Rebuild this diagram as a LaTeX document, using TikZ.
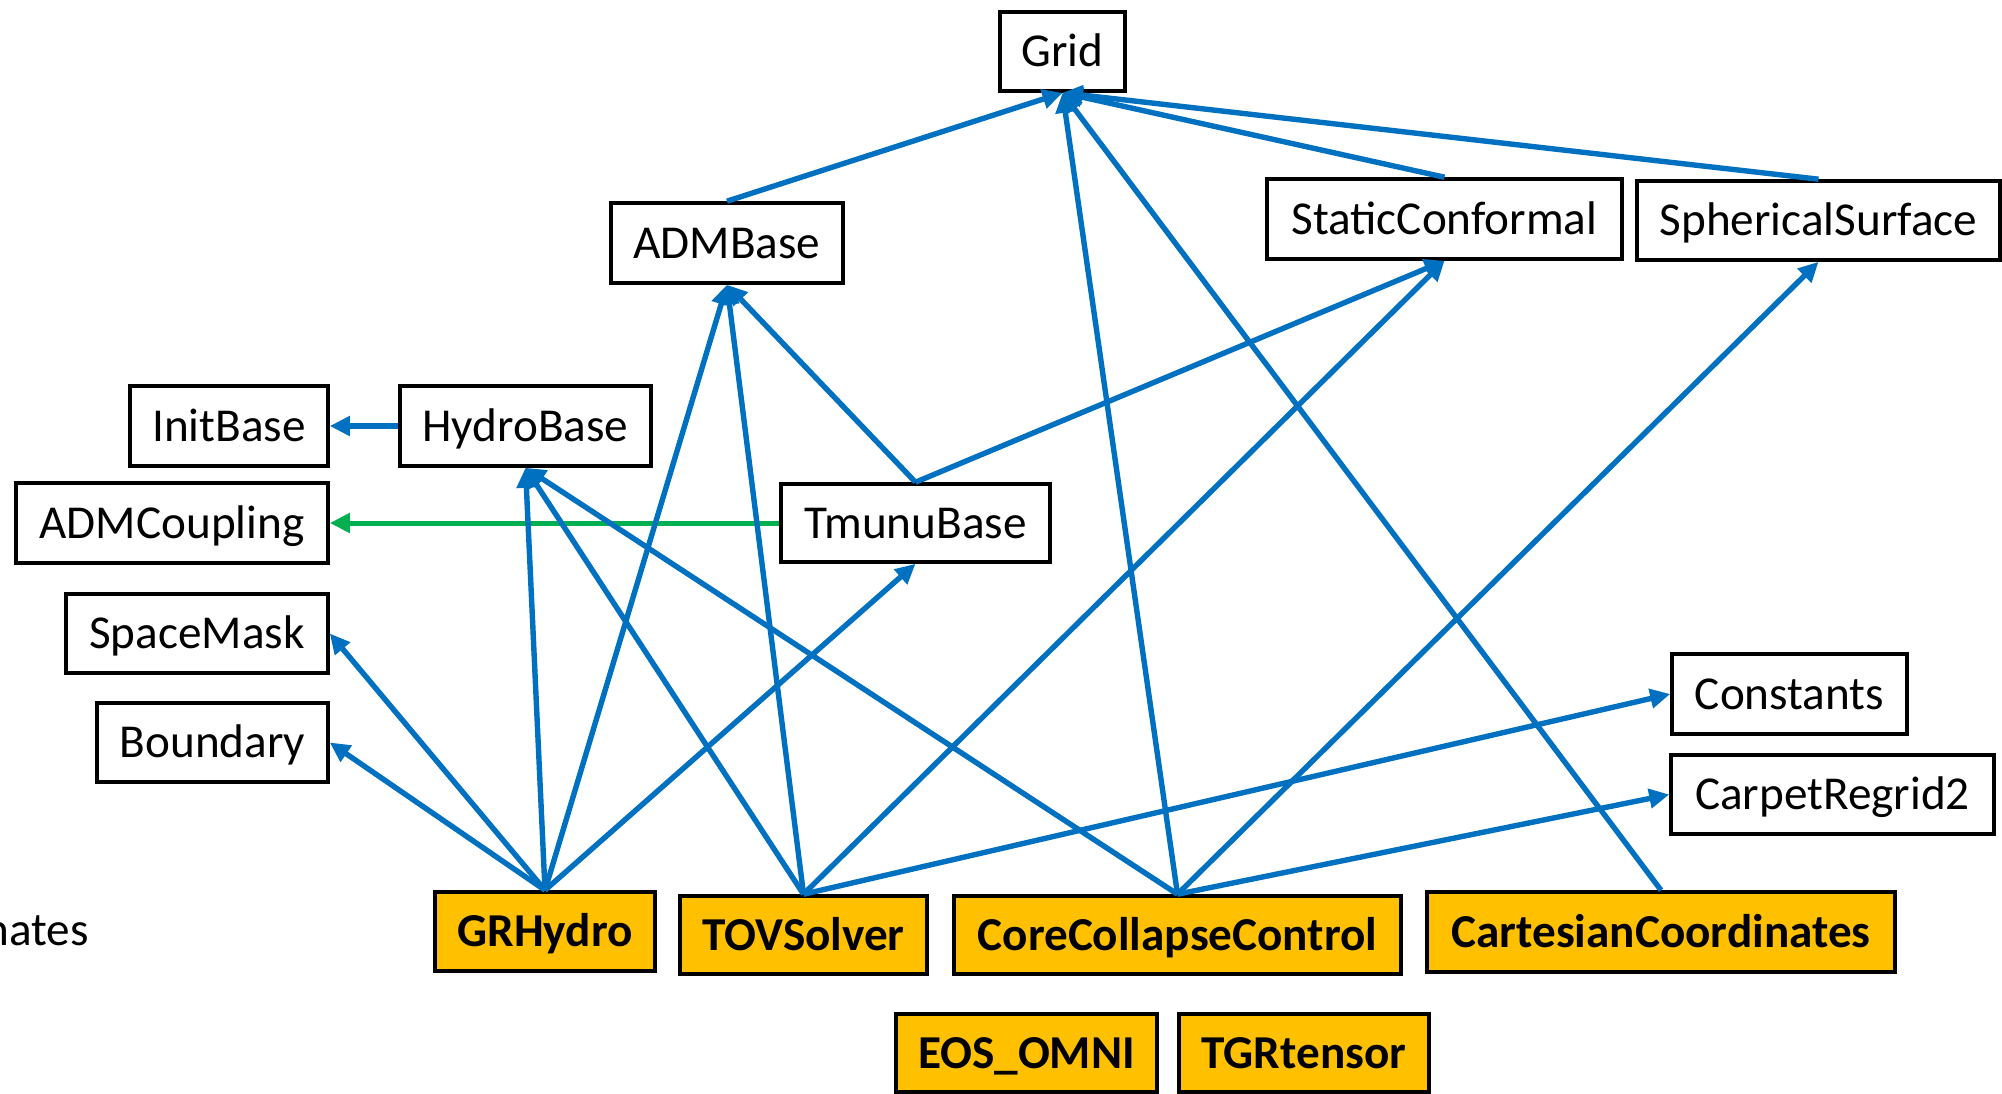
\documentclass[tikz,border=0pt]{standalone}
\usepackage{fontspec}
\setmainfont{Carlito}
\usetikzlibrary{arrows.meta}
\definecolor{linkblue}{HTML}{0070C0}
\definecolor{linkgreen}{HTML}{00B050}
\definecolor{thornyellow}{HTML}{FFC000}

\begin{document}
\begin{tikzpicture}[x=0.5pt,y=-0.5pt,
  box/.style={draw=black, line width=1.8pt, fill=white, inner sep=0pt,
    text height=15.2pt, text depth=0pt, font=\fontsize{23.6}{28}\selectfont},
  thorn/.style={box, fill=thornyellow, font=\fontsize{23.6}{28}\selectfont\bfseries},
  dep/.style={draw=linkblue, line width=2.7pt, -{Triangle[length=10pt,width=9.5pt]}},
  cpl/.style={dep, draw=linkgreen, line width=2.5pt}]

\useasboundingbox (0,0) rectangle (2002,1093);
\clip (0,0) rectangle (2002,1093);
\fill[white] (0,0) rectangle (2002,1093);

% infrastructure thorns
\node[box, minimum width=62.5pt, minimum height=39.5pt] (grid) at (1062.5,51.5) {Grid};
\node[box, minimum width=116pt, minimum height=40pt] (admbase) at (727,243) {ADMBase};
\node[box, minimum width=177.5pt, minimum height=40pt] (staticconf) at (1444.5,219) {StaticConformal};
\node[box, minimum width=181.5pt, minimum height=39.5pt] (spherical) at (1818.5,220.5) {SphericalSurface};
\node[box, minimum width=99pt, minimum height=40pt] (initbase) at (229,426) {InitBase};
\node[box, minimum width=125.5pt, minimum height=40pt] (hydrobase) at (525.5,426) {HydroBase};
\node[box, minimum width=156pt, minimum height=40pt] (admcoupling) at (172,523) {ADMCoupling};
\node[box, minimum width=134.5pt, minimum height=39pt] (tmunu) at (915.5,523) {TmunuBase};
\node[box, minimum width=131pt, minimum height=39.5pt] (spacemask) at (197,633.5) {SpaceMask};
\node[box, minimum width=115.5pt, minimum height=39.5pt] (boundary) at (212.5,742.5) {Boundary};
\node[box, minimum width=117.5pt, minimum height=40pt] (constants) at (1789.5,694) {Constants};
\node[box, minimum width=161.5pt, minimum height=39.5pt] (carpet) at (1832.5,794.5) {CarpetRegrid2};

% application thorns
\node[thorn, minimum width=110pt, minimum height=39.5pt] (grhydro) at (545,931.5) {GRHydro};
\node[thorn, minimum width=123.5pt, minimum height=39pt] (tov) at (803.5,935) {TOVSolver};
\node[thorn, minimum width=223.5pt, minimum height=39pt] (ccc) at (1177.5,935) {CoreCollapseControl};
\node[thorn, minimum width=234pt, minimum height=40pt] (cartesian) at (1661,932) {CartesianCoordinates};
\node[thorn, minimum width=130.5pt, minimum height=39pt] (eos) at (1026.5,1053) {EOS\_OMNI};
\node[thorn, minimum width=125pt, minimum height=39pt] (tgr) at (1304,1053) {TGRtensor};

% label running off the left edge
\node[anchor=base east, inner sep=0pt, font=\fontsize{23.6}{28}\selectfont] (nates) at (89,945) {nates};

% dependencies
\draw[dep] (admbase.north) -- (grid.south);
\draw[dep] (staticconf.north) -- (grid.south);
\draw[dep] (spherical.north) -- (grid.south);
\draw[dep] (ccc.north) -- (grid.south);
\draw[dep] (cartesian.north) -- (grid.south);
\draw[dep] (tmunu.north) -- (admbase.south);
\draw[dep] (tmunu.north) -- (staticconf.south);
\draw[dep] (hydrobase.west) -- (initbase.east);
\draw[cpl] (tmunu.west) -- (admcoupling.east);
\draw[dep] (grhydro.north) -- (boundary.east);
\draw[dep] (grhydro.north) -- (spacemask.east);
\draw[dep] (grhydro.north) -- (hydrobase.south);
\draw[dep] (grhydro.north) -- (admbase.south);
\draw[dep] (grhydro.north) -- (tmunu.south);
\draw[dep] (tov.north) -- (hydrobase.south);
\draw[dep] (tov.north) -- (admbase.south);
\draw[dep] (tov.north) -- (staticconf.south);
\draw[dep] (tov.north) -- (constants.west);
\draw[dep] (ccc.north) -- (hydrobase.south);
\draw[dep] (ccc.north) -- (spherical.south);
\draw[dep] (ccc.north) -- (carpet.west);
\end{tikzpicture}
\end{document}
